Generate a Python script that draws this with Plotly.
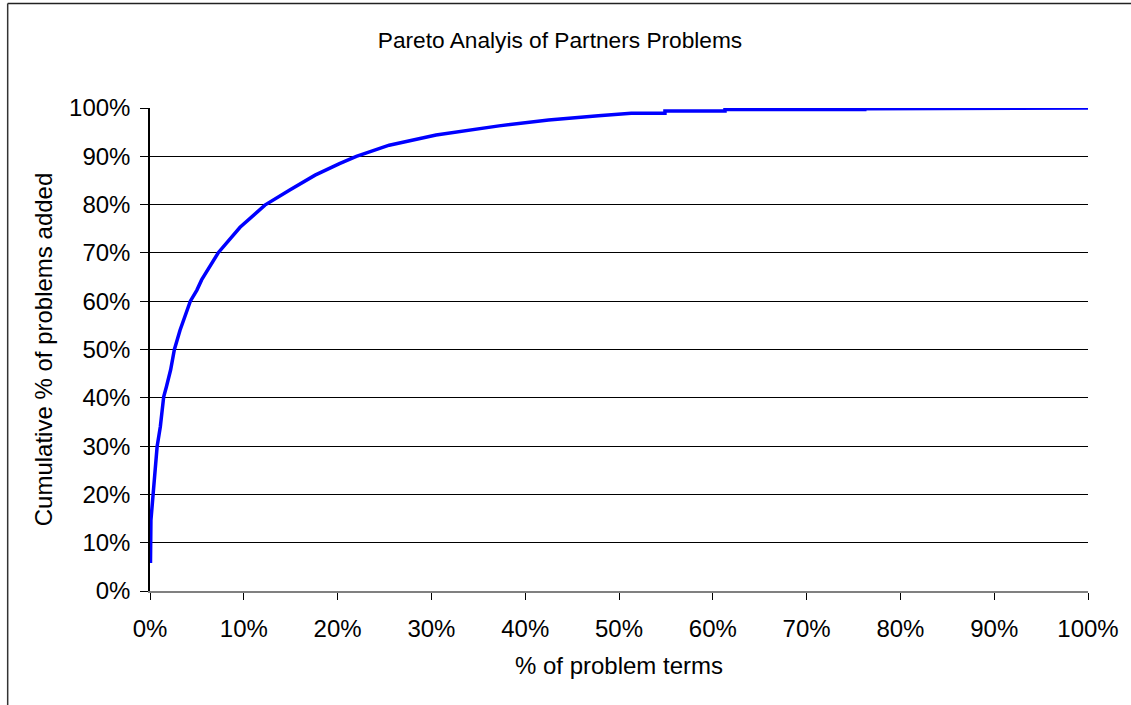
import plotly.graph_objects as go

# Data (percent values)
terms_pct = [0.05, 0.1, 0.34, 0.5, 0.76, 1.1, 1.46, 1.75, 2.2, 2.6, 3.2, 4.3, 5.0, 5.5,
             7.3, 9.6, 12.25, 14.9, 17.6, 20.2, 22.0, 25.5, 30.5, 37.2, 42.5,
             47.8, 51.3, 54.9, 54.9, 61.3, 61.3, 76.2, 76.2, 100.0]
cum_pct = [5.8, 14.7, 20.2, 23.7, 29.9, 34.0, 40.2, 42.3, 45.8, 50.0, 54.0, 60.0, 62.3, 64.4,
           70.1, 75.3, 79.9, 83.0, 86.1, 88.5, 90.0, 92.3, 94.4, 96.3, 97.5,
           98.4, 98.9, 98.9, 99.4, 99.4, 99.7, 99.7, 99.85, 100.0]
tick_vals = [0, 10, 20, 30, 40, 50, 60, 70, 80, 90, 100]
tick_text = [f"{v}%" for v in tick_vals]

W, H = 1131, 705
L, R, T, B = 149.5, 39, 108, 114
pw = W - L - R
ph = H - T - B

FONT = "Liberation Sans, Arial, sans-serif"

fig = go.Figure()
fig.add_trace(go.Scatter(x=terms_pct, y=cum_pct, mode="lines",
                         line=dict(color="#0000FF", width=3.5), hoverinfo="skip"))

def px_x(p):
    return (p - L) / pw

def px_y(p):
    return (H - B - p) / ph

fig.update_layout(
    width=W, height=H,
    margin=dict(l=L, r=R, t=T, b=B),
    paper_bgcolor="white", plot_bgcolor="white",
    showlegend=False,
    font=dict(family=FONT, size=24, color="black"),
    title=dict(text="Pareto Analyis of Partners Problems",
               x=560 / W, xanchor="center", xref="container",
               y=1 - 40 / H, yanchor="middle", yref="container",
               font=dict(family=FONT, size=22.7, color="black")),
    xaxis=dict(range=[0, 100], tickvals=tick_vals, ticktext=tick_text,
               showgrid=False, zeroline=False, showline=True,
               linecolor="#808080", linewidth=1.5,
               ticks="outside", ticklen=7, tickcolor="#000000", tickwidth=1,
               ticklabelstandoff=8,
               title=dict(text="% of problem terms", standoff=17,
                          font=dict(family=FONT, size=24, color="black")),
               fixedrange=True),
    yaxis=dict(range=[0, 100], tickvals=tick_vals, ticktext=tick_text,
               showgrid=True, gridcolor="#000000", gridwidth=1,
               zeroline=False, showline=True, linecolor="#000000", linewidth=1.5,
               ticks="outside", ticklen=8, tickcolor="#000000", tickwidth=1,
               ticklabelstandoff=5,
               title=dict(text="Cumulative % of problems added", standoff=10,
                          font=dict(family=FONT, size=24, color="black")),
               fixedrange=True),
    shapes=[
        dict(type="line", xref="paper", yref="paper",
             x0=px_x(6.5), x1=px_x(W + 10), y0=px_y(3.5), y1=px_y(3.5),
             line=dict(color="#222222", width=1.5)),
        dict(type="line", xref="paper", yref="paper",
             x0=px_x(6.5), x1=px_x(6.5), y0=px_y(3.5), y1=px_y(H + 10),
             line=dict(color="#333333", width=1.5)),
    ],
)

fig.write_html("out.html", config={"displayModeBar": False},
               post_script="document.body.style.margin='0px';document.body.style.overflow='hidden';")
